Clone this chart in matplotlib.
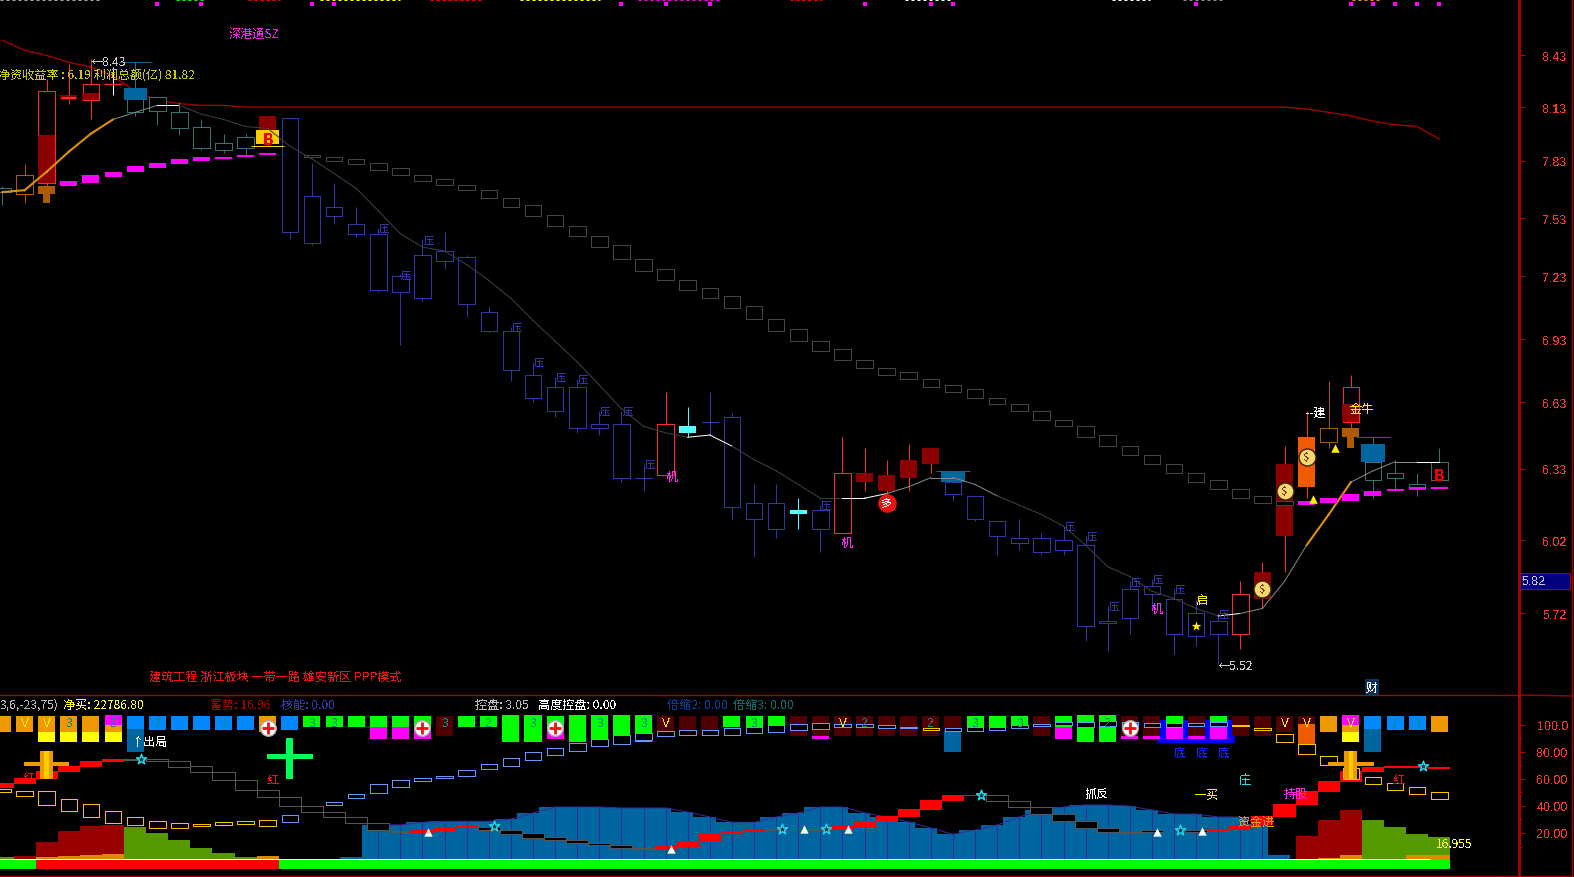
import numpy as np
import matplotlib
matplotlib.use("Agg")
import matplotlib.pyplot as plt
from matplotlib.lines import Line2D
from matplotlib.patches import Rectangle
from matplotlib.ticker import FixedLocator, NullLocator, NullFormatter

plt.rcParams['font.family'] = ['Noto Sans CJK SC', 'DejaVu Sans']
plt.rcParams['patch.antialiased'] = False
plt.rcParams['text.antialiased'] = False

# velas: cuerpo arriba / abajo, maximo, minimo
c_top = [7.70, 7.77, 8.24, 8.22, 8.28, 8.28, 8.20, 8.21, 8.12, 8.04,
         7.95, 7.98, 8.10, 8.09, 7.66, 7.60, 7.51, 7.46, 7.24, 7.35,
         7.37, 7.34, 7.06, 6.97, 6.76, 6.70, 6.70, 6.53, 6.53, 6.29,
         6.53, 6.52, 6.54, 6.56, 6.18, 6.18, 6.15, 6.15, 6.31, 6.31,
         6.30, 6.37, 6.42, 6.27, 6.21, 6.10, 6.03, 6.03, 6.02, 6.00,
         5.69, 5.82, 5.83, 5.78, 5.72, 5.69, 5.80, 5.89, 6.35, 6.47,
         6.51, 6.70, 6.36, 6.31, 6.26, 6.36]
c_bot = [7.68, 7.67, 7.73, 8.19, 8.19, 8.28, 8.12, 8.13, 8.03, 7.92,
         7.91, 7.92, 7.94, 7.47, 7.41, 7.55, 7.46, 7.17, 7.16, 7.13,
         7.32, 7.10, 6.97, 6.78, 6.65, 6.59, 6.51, 6.51, 6.29, 6.29,
         6.30, 6.49, 6.54, 6.16, 6.11, 6.07, 6.13, 6.07, 6.05, 6.27,
         6.23, 6.29, 6.35, 6.22, 6.11, 6.04, 6.01, 5.97, 5.98, 5.67,
         5.68, 5.70, 5.80, 5.64, 5.63, 5.64, 5.64, 5.78, 6.04, 6.25,
         6.45, 6.54, 6.28, 6.29, 6.24, 6.28]
c_high = [7.71, 7.83, 8.31, 8.40, 8.43, 8.38, 8.41, 8.21, 8.18, 8.08,
          8.00, 8.00, 8.10, 8.09, 7.84, 7.73, 7.60, 7.49, 7.25, 7.43,
          7.47, 7.35, 7.09, 6.99, 6.82, 6.75, 6.74, 6.59, 6.59, 6.35,
          6.68, 6.61, 6.68, 6.58, 6.26, 6.26, 6.20, 6.17, 6.47, 6.42,
          6.37, 6.44, 6.42, 6.32, 6.21, 6.10, 6.11, 6.05, 6.08, 6.04,
          5.75, 5.85, 5.86, 5.82, 5.78, 5.72, 5.85, 5.93, 6.43, 6.59,
          6.73, 6.76, 6.47, 6.37, 6.31, 6.42]
c_low = [7.61, 7.62, 7.71, 8.17, 8.08, 8.22, 8.10, 8.05, 7.99, 7.91,
         7.89, 7.88, 7.93, 7.43, 7.40, 7.51, 7.44, 7.16, 6.90, 7.11,
         7.28, 7.04, 6.96, 6.73, 6.63, 6.56, 6.49, 6.48, 6.27, 6.23,
         6.30, 6.47, 6.48, 6.11, 5.95, 6.03, 6.07, 5.97, 6.05, 6.23,
         6.21, 6.23, 6.31, 6.19, 6.10, 5.96, 5.98, 5.96, 5.96, 5.61,
         5.57, 5.64, 5.74, 5.56, 5.59, 5.52, 5.58, 5.74, 5.89, 6.20,
         6.42, 6.51, 6.20, 6.23, 6.21, 6.28]
c_kind = "tnrdrrttttttd" + "u" * 17 + "rcuuuucurdddd" + "u" * 13 + "rddfnrtttt"

# media gris
ma_gray = [7.68, 7.69, 7.79, 7.90, 8.00, 8.08, 8.12, 8.16, 8.16, 8.11,
           8.08, 8.04, 8.03, 7.93, 7.86, 7.78, 7.70, 7.58, 7.46, 7.39,
           7.37, 7.30, 7.22, 7.13, 7.02, 6.92, 6.82, 6.71, 6.60, 6.52,
           6.49, 6.47, 6.48, 6.43, 6.37, 6.32, 6.26, 6.20, 6.20, 6.20,
           6.22, 6.25, 6.29, 6.29, 6.26, 6.21, 6.17, 6.13, 6.08, 6.00,
           5.91, 5.87, 5.81, 5.78, 5.74, 5.71, 5.72, 5.74, 5.85, 6.00,
           6.13, 6.27, 6.32, 6.36, 6.36, 6.36]
ma_seg = ("ooooo" + "gg" + "w" + "d" * 23 + "ww" + "ddddd" + "wwgggg" + "g" + "d" * 10
          + "w" + "ggg" + "oo" + "ggg" + "w")

# media roja larga
ma_red = [8.54, 8.48, 8.45, 8.41, 8.38, 8.33, 8.24, 8.19, 8.17, 8.16, 8.16] + [8.15] * 48 + \
         [8.14, 8.12, 8.10, 8.07, 8.05, 8.04, 7.97]

# cajas grises, columnas 14 a 58
box_top = [7.88, 7.87, 7.86, 7.84, 7.81, 7.77, 7.75, 7.72, 7.69, 7.65,
           7.61, 7.56, 7.50, 7.45, 7.40, 7.33, 7.28, 7.22, 7.18, 7.14,
           7.09, 7.03, 6.98, 6.92, 6.88, 6.83, 6.79, 6.77, 6.74, 6.71,
           6.69, 6.65, 6.62, 6.59, 6.55, 6.52, 6.48, 6.43, 6.39, 6.35,
           6.31, 6.28, 6.24, 6.21, 6.19]
box_bot = [7.87, 7.85, 7.83, 7.80, 7.77, 7.74, 7.72, 7.69, 7.65, 7.60,
           7.55, 7.50, 7.45, 7.39, 7.33, 7.27, 7.22, 7.17, 7.13, 7.08,
           7.03, 6.97, 6.92, 6.87, 6.83, 6.79, 6.76, 6.74, 6.70, 6.68,
           6.65, 6.62, 6.59, 6.55, 6.52, 6.47, 6.43, 6.39, 6.35, 6.31,
           6.27, 6.24, 6.20, 6.18, 6.17]

# barras magenta
mag_idx = [3, 4, 5, 6, 7, 8, 9, 10, 11, 12, 59, 60, 61, 62, 63, 64, 65]
mag_top = [7.74, 7.77, 7.79, 7.82, 7.84, 7.86, 7.87, 7.87, 7.88, 7.89, 6.19, 6.20, 6.22, 6.23, 6.24, 6.25, 6.25]
mag_bot = [7.71, 7.73, 7.76, 7.79, 7.81, 7.83, 7.85, 7.86, 7.87, 7.88, 6.17, 6.18, 6.19, 6.21, 6.23, 6.24, 6.24]

ya_idx = [17, 18, 19, 23, 24, 25, 26, 27, 28, 29, 37, 48, 49, 50, 51, 52, 53, 55]
dot_idx = [7, 9, 14, 15, 28, 30, 32, 39, 42, 43, 54, 61, 62, 63, 64, 65]

price_ticks = [8.45, 8.15, 7.85, 7.54, 7.24, 6.93, 6.63, 6.33, 6.02, 5.72]
price_labels = ['8.43', '8.13', '7.83', '7.53', '7.23', '6.93', '6.63', '6.33', '6.02', '5.72']

# panel inferior
step_hi = [57.0, 60.4, 65.8, 69.5, 73.2, 74.7, 74.7, 74.5, 73.0, 69.3, 64.8, 58.9, 51.5, 46.4, 39.7, 35.3,
           31.6, 27.1, 21.7, 21.9, 24.4, 24.9, 24.4, 22.4, 19.7, 16.8, 14.5, 12.3, 10.8, 8.6, 10.1, 14.1,
           20.2, 21.4, 22.9, 22.9, 22.9, 22.7, 24.9, 28.8, 32.5, 37.7, 44.4, 48.1, 48.1, 47.8, 43.4, 39.0,
           33.8, 28.6, 23.4, 20.5, 22.2, 21.4, 22.2, 23.2, 25.9, 32.3, 41.7, 50.8, 58.4, 65.8, 68.8, 69.5,
           69.3, 68.8]
step_lo = [53.3, 56.2, 59.9, 65.1, 68.8, 72.5, 74.0, 73.0, 69.0, 64.8, 58.9, 51.5, 46.4, 39.7, 35.3, 31.6,
           27.1, 21.9, 20.5, 20.2, 21.4, 23.7, 22.4, 19.5, 16.5, 14.5, 12.3, 10.8, 8.6, 7.9, 7.4, 9.9,
           13.3, 19.2, 20.7, 22.4, 22.2, 22.4, 22.2, 24.7, 28.4, 31.8, 37.0, 43.6, 47.6, 43.4, 39.0, 33.8,
           28.6, 23.4, 20.5, 20.2, 20.5, 21.2, 20.7, 21.7, 22.2, 25.9, 32.1, 40.9, 50.0, 57.7, 65.1, 68.0,
           68.3, 67.1]
step_kind = "rrrrrr" + "g" * 13 + "rrr" + "g" * 8 + "rrrrr" + "grgr" + "rrrrr" + "r" + "g" * 8 + "rgrrrr" + "rrrrrrrr" + "gg"

stick_hi = [52.5, 50.8, 50.8, 44.9, 41.2, 36.0, 31.6, 28.6, 27.1, 26.6, 27.9, 28.6, 29.3, 33.0, np.nan, 42.7,
            48.6, 56.0, 58.9, 60.4, 61.9, 66.3, 70.8, 75.2, 79.6, 82.6, 86.3, 89.3, 92.2, 94.2, 95.2, 95.9,
            95.9, 97.4, 98.1, 99.6, 100.3, 101.1, 100.3, 100.3, 99.6, 98.1, 97.4, 97.4, 98.1, 98.6, 99.6, 100.6,
            101.8, 101.8, 102.6, 101.8, 101.1, 101.1, 101.1, 101.8, 99.9, 97.6, 92.9, 86.0, 76.7, 68.0, 61.1,
            56.7, 53.7, 50.0]
stick_lo = [50.5, 47.6, 40.9, 36.5, 32.1, 27.6, 26.1, 23.9, 23.9, 25.4, 26.1, 26.9, 25.4, 28.4, np.nan, 40.9,
            46.1, 49.8, 54.2, 58.7, 60.9, 62.4, 67.1, 69.8, 74.2, 77.9, 80.9, 84.6, 86.0, 89.0, 92.0, 92.7,
            92.5, 92.7, 94.2, 94.9, 96.4, 97.1, 98.6, 98.1, 97.9, 97.9, 96.4, 95.7, 95.7, 96.4, 97.9, 99.1,
            99.9, 98.6, 99.1, 99.4, 98.4, 98.6, 99.1, 98.9, 99.1, 96.4, 87.5, 78.6, 70.5, 59.9, 56.5,
            52.0, 49.1, 45.4]
stick_gold = list(range(0, 13)) + [42] + list(range(56, 66))

blue_idx = list(range(16, 59))
blue_vals = [2.2, 25.9, 25.9, 27.9, 28.6, 28.6, 28.6, 30.3, 34.8, 39.2, 39.2, 39.2, 38.5, 38.5, 38.5, 35.5,
             31.8, 27.9, 27.9, 31.8, 34.8, 39.2, 39.2, 34.8, 31.8, 28.1, 23.7, 19.0, 22.2, 25.9, 31.8, 37.0,
             39.2, 40.7, 40.7, 39.9, 37.0, 34.0, 34.0, 31.8, 31.8, 26.6, 3.7]

hist_red_idx = [1, 2, 3, 4, 5, 59, 60, 61]
hist_red = [3.0, 13.3, 21.5, 25.1, 25.9, 17.8, 29.6, 37.0]
hist_green_idx = [0, 6, 7, 8, 9, 10, 11, 62, 63, 64, 65]
hist_green = [2.2, 24.4, 20.0, 14.8, 8.9, 5.2, 2.2, 29.6, 24.4, 19.2, 17.0]
hist_orange_idx = [2, 3, 4, 5, 12, 60, 61, 64, 65]
hist_orange = [2.2, 3.0, 3.7, 4.4, 3.0, 1.5, 3.7, 3.7, 3.7]

band_red = list(range(2, 13))

tile_colors = {'o': '#ee9900', 'y': '#ffff00', 'm': '#ff00ff', 'b': '#0088ff', 't': '#0066a0',
               'g': '#00ff00', 'd': '#500000', 'r': '#f05a00'}
stack_types = {
    'O': [('o', 106.5, 94.7)],
    'OY': [('o', 106.5, 94.7), ('y', 94.7, 87.3)],
    'MOY': [('m', 107.2, 99.9), ('o', 99.9, 94.7), ('y', 94.7, 87.3)],
    'BT': [('b', 106.5, 96.9), ('t', 96.9, 79.9)],
    'B': [('b', 106.5, 96.2)],
    'G': [('g', 106.5, 98.4)],
    'GM': [('g', 106.5, 98.4), ('m', 98.4, 89.5)],
    'D': [('d', 106.5, 91.7)],
    'DM': [('d', 106.5, 91.7), ('m', 91.7, 89.5)],
    'L': [('g', 107.2, 87.3)],
    'L2': [('g', 107.2, 89.5)],
    'L3': [('g', 107.2, 91.7)],
    'DV': [('d', 106.5, 94.7)],
    'G2': [('g', 106.5, 97.6)],
    'G3': [('g', 106.5, 99.1)],
    'DT': [('d', 106.5, 95.4), ('t', 95.4, 79.9)],
    'DR': [('d', 106.5, 100.6), ('r', 100.6, 86.0)],
}
tile_kind = ['O', 'O', 'OY', 'OY', 'OY', 'MOY', 'BT', 'B', 'B', 'B', 'B', 'B', 'O', 'B', 'G', 'G', 'G', 'GM', 'GM', 'GM',
             'D', 'G', 'G', 'L', 'L', 'GM', 'L', 'L2', 'L3', 'L', 'DV', 'D', 'D', 'G', 'G2', 'G3', 'D', 'DM', 'D', 'D',
             'D', 'D', 'D', 'DT', 'G', 'G', 'G', 'D', 'GM', 'L', 'L', 'DM', 'DM', 'GM', 'DM', 'GM', 'D', 'D', 'DV', 'DR',
             'O', 'MOY', 'BT', 'B', 'B', 'O']
tile_text = {1: 'V', 2: 'V', 3: '3', 5: '3', 7: '3', 10: '3', 14: '3', 15: '3', 20: '3', 22: '2', 24: '3', 27: '3',
             29: '3', 30: 'V', 34: '3', 38: 'V', 39: '2', 42: '2', 44: '3', 46: '3', 50: '2', 58: 'V', 59: 'V',
             61: 'V', 63: '2', 64: '3'}
icon_idx = [12, 19, 25, 51]
icon_val = 97.9

star_idx = [6, 22, 35, 37, 44, 53, 64]
star_val = [74.7, 24.9, 22.9, 22.9, 48.1, 22.2, 69.3]
tri_idx = [19, 30, 36, 38, 52, 54]
tri_val = [20.5, 7.9, 22.7, 22.7, 20.5, 21.2]

vol_ticks = [100, 80, 60, 40, 20]
vol_labels = ['100.0', '80.00', '60.00', '40.00', '20.00']

W, H = 1574, 878
fig = plt.figure(figsize=(W / 100, H / 100), dpi=100, facecolor='black')
RED = '#aa0000'
TICK = '#ff3333'
THIN = 0.72
xlim = (-0.113, 68.62)
ax = fig.add_axes([0, 1 - 696 / H, 1519.3 / W, 696 / H], facecolor='black')
ax2 = fig.add_axes([0, 1 / H, 1519.3 / W, 181 / H], facecolor='black')


def ftext(x, y, s, color, size=8.7, ha='left', **kw):
    fig.text(x / W, 1 - (y + 1) / H, s, color=color, fontsize=size, ha=ha, va='center', **kw)


def marca(a, i, top, bot, width, color, z=3, edge=None, lw=0):
    a.bar(i, top - bot, width, bottom=bot, color=color, edgecolor=edge, linewidth=lw, zorder=z)


ax.set_yscale('log')
n = len(c_top)

# media roja y cajas grises
ax.plot(range(n), ma_red, color='#a00000', lw=1.0, zorder=1)
for k in range(len(box_top)):
    marca(ax, 14 + k, box_top[k], box_bot[k], 0.75, 'black', z=4, edge='#444444', lw=THIN)

# velas
line_col = {'t': '#3a7272', 'n': '#b05a00', 'r': '#ff2a2a', 'd': '#8b0000', 'u': '#3333aa', 'c': '#55ffff', 'f': '#f05a00'}
for i in range(n):
    k = c_kind[i]
    col = line_col[k]
    wick = 'white' if i == 5 else ('#ff2a2a' if k in 'df' else col)
    ax.vlines(i, c_low[i], c_high[i], color=wick, lw=THIN, zorder=2)
    if k in 'dcf':
        marca(ax, i, c_top[i], c_bot[i], 0.77, col, z=3)
    else:
        marca(ax, i, c_top[i], c_bot[i], 0.75, 'black', z=3, edge=col, lw=THIN)

# rellenos oscuros sobre velas rojas
for i, t, b in [(2, 7.99, 7.73), (4, 8.23, 8.19), (61, 6.62, 6.54)]:
    marca(ax, i, t, b, 0.77, '#8b0000', z=3.5)
marca(ax, 3, 8.21, 8.20, 0.6, 'black', z=3.5, edge='#ff2a2a', lw=THIN)
ax.hlines(8.28, 4.6, 5.4, color='#ff2a2a', lw=1.0, zorder=3.5)

# bloques azules y T marrones
for i, t, b, hi in [(6, 8.26, 8.19, 8.41), (43, 6.32, 6.27, 6.32), (62, 6.44, 6.36, 6.47)]:
    marca(ax, i, t, b, 1.05, '#0066a0', z=5)
    ax.hlines(hi, i - 0.75, i + 0.75, color='#0a6a90', lw=THIN, zorder=5)
for i, t, m, b in [(2, 7.71, 7.67, 7.62), (61, 6.51, 6.47, 6.42)]:
    marca(ax, i, t, m, 0.77, '#b05a00', z=5)
    marca(ax, i, m, b, 0.32, '#b05a00', z=5)
marca(ax, 12, 8.02, 7.94, 1.05, '#ffcc00', z=5)
ax.hlines(7.93, 11.25, 12.75, color='#ffcc00', lw=THIN, zorder=5)

# media con tramos de color
seg_col = {'o': '#e09000', 'g': '#888888', 'w': 'white', 'd': '#404040'}
for i in range(n - 1):
    s = ma_seg[i] if i < len(ma_seg) else 'g'
    ax.plot([i, i + 1], [ma_gray[i], ma_gray[i + 1]], color=seg_col[s], lw=1.5 if s == 'o' else THIN, zorder=6)

for i, t, b in zip(mag_idx, mag_top, mag_bot):
    marca(ax, i, t, b, 0.77, '#ff00ff', z=6)

ax.scatter(dot_idx, [8.76] * len(dot_idx), marker='s', s=5, color='#ff00ff', linewidths=0, zorder=6)

for i in ya_idx:
    ax.text(i + 0.27, c_high[i], '压', color='#3333aa', fontsize=7.5, ha='center', va='center', zorder=7)

# iconos
for i, p in [(57, 5.82), (58, 6.23), (59, 6.38)]:
    ax.scatter([i], [p], s=150, color='#f5d870', edgecolors='#402000', linewidths=1, zorder=8)
    ax.text(i, p, '$', color='#803020', fontsize=8, ha='center', va='center', zorder=9)
ax.scatter([40], [6.18], s=180, color='#ee1111', linewidths=0, zorder=8)
ax.text(40, 6.18, '多', color='white', fontsize=8, ha='center', va='center', zorder=9)
ax.scatter([54], [5.67], marker='*', s=55, color='#ffee00', linewidths=0, zorder=8)
ax.scatter([59.3, 60.3], [6.195, 6.42], marker='^', s=38, color='#ffee00', linewidths=0, zorder=8)

ax.set_xlim(*xlim)
ax.set_ylim(5.403, 8.79)
ax.yaxis.set_major_locator(FixedLocator(price_ticks))
ax.yaxis.set_minor_locator(NullLocator())
ax.yaxis.set_minor_formatter(NullFormatter())
ax.set_yticks(price_ticks, price_labels)
ax.yaxis.tick_right()
ax.set_xticks([])
ax.tick_params(axis='y', colors=TICK, length=4.5, width=THIN, pad=12, labelsize=9, color=RED)
for lab in ax.get_yticklabels():
    lab.set_fontfamily('Liberation Sans')

# panel inferior: histogramas
for i, v in zip(hist_green_idx, hist_green):
    marca(ax2, i, v, 0, 1.0, '#559900', z=2)
for i, v in zip(hist_red_idx, hist_red):
    marca(ax2, i, v, 0, 1.0, '#990000', z=2)
for i, v in zip(hist_orange_idx, hist_orange):
    marca(ax2, i, v, 0, 1.0, '#e08800', z=2.2)

# area azul
for i, v in zip(blue_idx, blue_vals):
    marca(ax2, i - 0.24, v, 0, 1.0, '#0066a0', z=2)
    ax2.vlines(i, 0, v, color='#3a2aa0', lw=THIN, zorder=2.5)
ax2.plot(blue_idx[1:-1], blue_vals[1:-1], color='#3a2aa0', lw=THIN, zorder=2.5)

# banda inferior
for i in range(n):
    marca(ax2, i, 0, -6.7, 1.0, '#ff0000' if i in band_red else '#00ff00', z=2)
ax2.hlines(0.7, -0.2, 64.6, color='white', lw=THIN, zorder=3)

# fondo azul de 底
marca(ax2, 54, 103.6, 86.8, 3.5, '#0000ff', z=2)

# escalones rojos y grises
for i in range(n):
    if step_kind[i] == 'r':
        marca(ax2, i, step_hi[i], step_lo[i], 1.0, '#ff0000', z=4)
    else:
        marca(ax2, i, step_hi[i], step_lo[i], 1.0, 'black', z=4, edge='#555555', lw=THIN)

# azulejos
for i, kind in enumerate(tile_kind):
    for c, t, b in stack_types[kind]:
        marca(ax2, i, t, b, 0.77, tile_colors[c], z=3)
for i, s in tile_text.items():
    col = '#ffee00' if s == 'V' else '#0a8a8a'
    ax2.text(i, 101.5, s, color=col, fontsize=8.5, ha='center', va='center', zorder=7,
             fontfamily='Liberation Sans')

# palitos huecos
for i in range(n):
    if np.isnan(stick_hi[i]):
        continue
    col = '#ffc000' if i in stick_gold else '#6699ff'
    marca(ax2, i, stick_hi[i], stick_lo[i], 0.75, 'black', z=5, edge=col, lw=THIN)

# cruces doradas y cruz verde
for i in [2, 61]:
    ax2.bar(i, 3.0, 2.05, bottom=69.5, color='#ee9900', zorder=6)
    ax2.bar(i, 20.7, 0.58, bottom=59.9, color='#ee9900', zorder=6)
    ax2.bar(i, 20.7, 0.2, bottom=59.9, color='#ffcc00', zorder=6.1)
ax2.bar(13, 3.7, 2.05, bottom=74.7, color='#00ff55', zorder=6)
ax2.bar(13, 30.3, 0.32, bottom=59.9, color='#00ff55', zorder=6)

ax2.scatter([i + 0.25 for i in star_idx], star_val, marker='*', s=60, facecolors='#003344',
            edgecolors='#22ddee', linewidths=1, zorder=8)
ax2.scatter([i + 0.25 for i in tri_idx], tri_val, marker='^', s=36, color='white', linewidths=0, zorder=8)
ax2.scatter(icon_idx, [icon_val] * 4, s=125, color='white', edgecolors='#aaaaaa', linewidths=1, zorder=8)
ax2.scatter(icon_idx, [icon_val] * 4, marker='+', s=65, color='#ee1111', linewidths=2, zorder=9)

ax2.set_xlim(*xlim)
ax2.set_ylim(-11.8, 122)
ax2.set_xticks([])
ax2.set_yticks(vol_ticks, vol_labels)
ax2.set_yticks([90, 70, 50, 30, 10], minor=True)
ax2.yaxis.tick_right()
ax2.tick_params(axis='y', which='major', colors=TICK, length=4.5, width=THIN, pad=8, labelsize=9, color=RED)
ax2.tick_params(axis='y', which='minor', length=2.5, width=THIN, color=RED)
for lab in ax2.get_yticklabels():
    lab.set_fontfamily('Liberation Sans')

for a in (ax, ax2):
    for s in a.spines.values():
        s.set_visible(False)
    a.spines['right'].set_visible(True)
    a.spines['right'].set_color(RED)
    a.spines['right'].set_linewidth(1.0)

# marcos
for (x0, y0, x1, y1) in [(0, 696, 1519, 696), (1519, 696, 1572, 697), (1572, 0, 1572, 878), (0, 877, 1572, 877)]:
    fig.add_artist(Line2D([x0 / W, x1 / W], [1 - y0 / H, 1 - y1 / H], color=RED, lw=1.0))

# precio actual
fig.add_artist(Rectangle((1520 / W, 1 - 590 / H), 50 / W, 16 / H, facecolor='#000080', edgecolor=RED, lw=THIN,
                         transform=fig.transFigure))
ftext(1522, 581, '5.82', '#c8c8e8', 9, family='Liberation Sans')

# restos del texto cortado arriba
top_bits = [(0, 100, '#aaaaaa'), (176, 205, '#00ff00'), (248, 280, '#ff0000'), (320, 400, '#ffff00'),
            (430, 482, '#ff0000'), (520, 600, '#ffff00'), (638, 722, '#ff00ff'), (790, 822, '#ff0000'),
            (905, 950, 'white'), (1112, 1150, 'white'), (1183, 1222, '#888888'), (1352, 1382, '#e09000')]
for a0, a1, col in top_bits:
    fig.add_artist(Line2D([a0 / W, a1 / W], [1 - 0.5 / H] * 2, color=col, lw=THIN, dashes=(3, 3)))

# textos
ftext(229, 33, '深港通SZ', '#ee22ee')
ftext(-2, 75, '净资收益率 : 6.19 利润总额(亿) 81.82', '#c8c800')
ftext(91, 61, '←8.43', '#cccccc')
ftext(1218, 666, '←5.52', '#cccccc')
ftext(149, 676, '建筑工程 浙江板块 一带一路 雄安新区 PPP模式', '#ee1111')
ftext(0, 704, '3,6,-23,75)', '#bbbbbb')
ftext(63, 704, '净买: 22786.80', '#ffff33')
ftext(210, 704, '蓄势: 16.96', '#990000')
ftext(281, 704, '核能: 0.00', '#3333aa')
ftext(475, 704, '控盘: 3.05', '#bbbbbb')
ftext(538, 704, '高度控盘: 0.00', 'white')
ftext(667, 704, '倍缩2: 0.00', '#0a3a99')
ftext(733, 704, '倍缩3: 0.00', '#0a6a6a')
ftext(672, 476, '机', '#ff22ff', ha='center')
ftext(847, 542, '机', '#ff22ff', ha='center')
ftext(1157, 608, '机', '#ff22ff', ha='center')
ftext(1202, 599, '启', '#ffee00', ha='center')
ftext(1362, 409, '金牛', '#ffee00', ha='center')
ftext(1316, 412, '--建', 'white', ha='center')
ftext(268, 139, 'B', '#ee0000', 11, ha='center', fontweight='bold')
ftext(1439, 475, 'B', '#ee0000', 11, ha='center', fontweight='bold')
ftext(150, 742, '↑出局', 'white', ha='center')
ftext(29, 777, '红', '#ee1111', ha='center')
ftext(273, 779, '红', '#ee1111', ha='center')
ftext(1399, 779, '红', '#ee1111', ha='center')
for xt in (1180, 1202, 1224):
    ftext(xt, 752, '底', '#1122ee', ha='center')
ftext(1097, 793, '抓反', 'white', ha='center')
ftext(1207, 794, '一买', '#ffee00', ha='center')
ftext(1245, 779, '庄', '#22dddd', ha='center')
ftext(1296, 793, '持股', '#ff22ff', ha='center')
ftext(1257, 821, '资金进', '#ee9900', ha='center')
ftext(1454, 844, '16.955', '#ffff33', ha='center')
fig.text(1372 / W, 1 - 688 / H, '财', color='white', fontsize=8.7, ha='center', va='center',
         bbox=dict(facecolor='#0a3060', edgecolor='none', pad=0.8))

fig.savefig('out.png', dpi=100, facecolor='black')
